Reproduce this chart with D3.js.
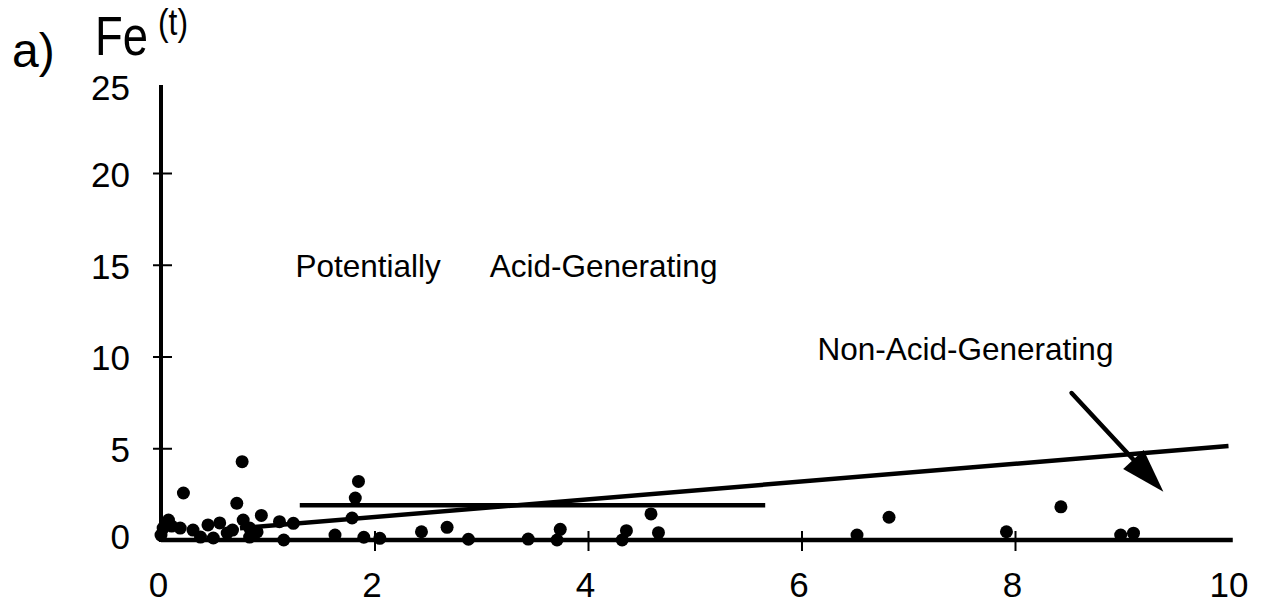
<!DOCTYPE html>
<html>
<head>
<meta charset="utf-8">
<script src="https://cdn.jsdelivr.net/npm/d3@7"></script>
<style>
  html, body { margin: 0; padding: 0; background: #fff; }
  svg { display: block; }
  text { font-family: "Liberation Sans", Arial, Helvetica, sans-serif; fill: #000; }
</style>
</head>
<body>
<svg id="chart" width="1262" height="603"></svg>
<script>
// Sample measurements: x value and total iron Fe(t)
const xValues = [
  0.07, 0.00, 0.02, 0.10, 0.18, 0.21, 0.30, 0.37, 0.44, 0.49,
  0.55, 0.62, 0.67, 0.71, 0.76, 0.77, 0.83, 0.83, 0.90, 0.94,
  1.11, 1.15, 1.24, 1.63, 1.79, 1.82, 1.85, 1.90, 2.05, 2.44,
  2.68, 2.88, 3.44, 3.71, 3.74, 4.32, 4.36, 4.59, 4.66, 6.52,
  6.82, 7.92, 8.43, 8.99, 9.11
];
const feValues = [
  1.09, 0.27, 0.65, 0.76, 0.65, 2.56, 0.54, 0.16, 0.82, 0.11,
  0.93, 0.38, 0.54, 2.00, 4.27, 1.09, 0.65, 0.16, 0.44, 1.34,
  1.00, 0.00, 0.91, 0.27, 1.20, 2.29, 3.19, 0.15, 0.09, 0.45,
  0.69, 0.04, 0.05, 0.00, 0.58, 0.00, 0.51, 1.42, 0.40, 0.27,
  1.24, 0.45, 1.81, 0.27, 0.37
];

// Axis ticks
const xTickValues = [0, 2, 4, 6, 8, 10];
const yTickValues = [0, 5, 10, 15, 20, 25];

// Boundary lines (data coordinates)
const flatLineX = [1.30, 5.66];
const flatLineY = [1.89, 1.89];
const slopeLineX = [0.74, 10.0];
const slopeLineY = [0.64, 5.12];

// Region labels and arrow (data coordinates)
const regionLabels = [
  { text: "Potentially", x: 1.26, y: 14.33 },
  { text: "Acid-Generating", x: 3.08, y: 14.33 },
  { text: "Non-Acid-Generating", x: 6.15, y: 9.81 }
];
const arrowFrom = [8.53, 8.01];
const arrowTo = [9.39, 2.63];

const svg = d3.select("#chart");
svg.append("rect").attr("width", 1262).attr("height", 603).attr("fill", "#fff");

const x = d3.scaleLinear().domain([0, 10]).range([161, 1228.5]);
const y = d3.scaleLinear().domain([0, 25]).range([540, 81.25]);

// Titles
svg.append("text").attr("x", 12).attr("y", 67).attr("font-size", 48).text("a)");
svg.append("text").attr("x", 95).attr("y", 55).attr("font-size", 56)
  .attr("textLength", 53).attr("lengthAdjust", "spacingAndGlyphs").text("Fe");
svg.append("text").attr("x", 158).attr("y", 35).attr("font-size", 36)
  .attr("textLength", 30).attr("lengthAdjust", "spacingAndGlyphs").text("(t)");

// X axis ticks and labels
const gx = svg.append("g")
  .attr("transform", `translate(0,${y(0)})`)
  .call(d3.axisBottom(x).tickValues(xTickValues).tickFormat(d3.format("d")));
gx.select(".domain").remove();
gx.attr("font-family", null);
gx.selectAll(".tick line")
  .attr("y1", -9).attr("y2", 11)
  .attr("stroke", "#000").attr("stroke-width", 2)
  .style("display", d => (d === 0 || d === 10) ? "none" : null);
gx.selectAll(".tick text")
  .attr("x", d => d === 10 ? 0 : -3)
  .attr("y", 57).attr("dy", 0)
  .attr("font-size", 35).attr("fill", "#000");

// Y axis ticks and labels
const gy = svg.append("g")
  .attr("transform", `translate(${x(0)},0)`)
  .call(d3.axisLeft(y).tickValues(yTickValues).tickFormat(d3.format("d")));
gy.select(".domain").remove();
gy.attr("font-family", null);
gy.selectAll(".tick line")
  .attr("x1", -8).attr("x2", 11)
  .attr("stroke", "#000").attr("stroke-width", 2)
  .style("display", d => (d === 0 || d === 25) ? "none" : null);
gy.selectAll(".tick text")
  .attr("x", -31).attr("y", d => d === 0 ? -4 : (d === 25 ? 6 : 1)).attr("dy", "0.35em")
  .attr("font-size", 35).attr("fill", "#000");

// Axis lines
svg.append("line")
  .attr("x1", x(0)).attr("x2", x(0))
  .attr("y1", y(0) + 2).attr("y2", y(24.8))
  .attr("stroke", "#000").attr("stroke-width", 4);
svg.append("line")
  .attr("x1", x(0)).attr("x2", x(10.04))
  .attr("y1", y(0)).attr("y2", y(0))
  .attr("stroke", "#000").attr("stroke-width", 4.5);

// Boundary lines
const line = d3.line().x(d => x(d[0])).y(d => y(d[1]));
svg.append("path")
  .attr("d", line(d3.zip(flatLineX, flatLineY)))
  .attr("stroke", "#000").attr("stroke-width", 4.5).attr("fill", "none");
svg.append("path")
  .attr("d", line(d3.zip(slopeLineX, slopeLineY)))
  .attr("stroke", "#000").attr("stroke-width", 4.5).attr("fill", "none");

// Points
svg.append("g").selectAll("circle")
  .data(d3.zip(xValues, feValues))
  .join("circle")
  .attr("cx", d => x(d[0]))
  .attr("cy", d => y(d[1]))
  .attr("r", 6.5)
  .attr("fill", "#000");

// Region labels
svg.append("g").selectAll("text")
  .data(regionLabels)
  .join("text")
  .attr("x", d => x(d.x))
  .attr("y", d => y(d.y))
  .attr("font-size", 31.5)
  .text(d => d.text);

// Arrow pointing at the sloped boundary
const p0 = [x(arrowFrom[0]), y(arrowFrom[1])];
const p1 = [x(arrowTo[0]), y(arrowTo[1])];
const dx = p1[0] - p0[0], dy = p1[1] - p0[1];
const len = Math.hypot(dx, dy);
const ux = dx / len, uy = dy / len;
const headLen = 44, headHalf = 14;
const base = [p1[0] - ux * headLen, p1[1] - uy * headLen];
svg.append("line")
  .attr("x1", p0[0]).attr("y1", p0[1])
  .attr("x2", base[0] + ux * 4).attr("y2", base[1] + uy * 4)
  .attr("stroke", "#000").attr("stroke-width", 4.5).attr("stroke-linecap", "round");
svg.append("path")
  .attr("d", d3.line()([
    p1,
    [base[0] - uy * headHalf, base[1] + ux * headHalf],
    [base[0] + uy * headHalf, base[1] - ux * headHalf]
  ]) + "Z")
  .attr("fill", "#000");
</script>
</body>
</html>
